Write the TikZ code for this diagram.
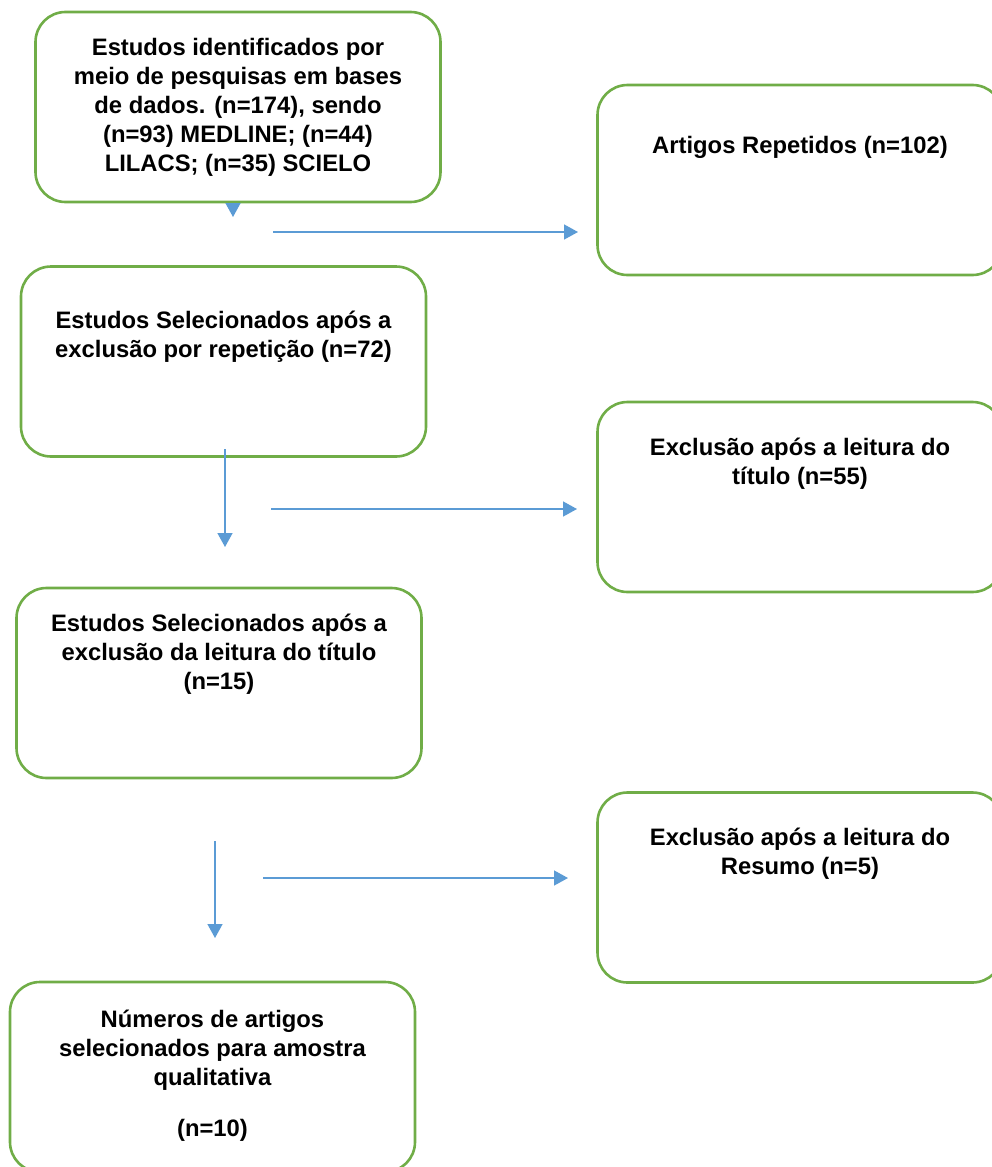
\documentclass[tikz,border=0pt]{standalone}
\usepackage{fontspec}
\setmainfont{Liberation Sans}
\usetikzlibrary{arrows.meta}
\definecolor{boxgreen}{HTML}{70AD47}
\definecolor{arrowblue}{HTML}{5B9BD5}
\tikzset{
	stagebox/.style={draw=boxgreen, line width=2.6pt, rounded corners=30pt,
		minimum width=405pt, minimum height=190pt, inner sep=0pt},
	stagetext/.style={anchor=north, inner sep=0pt, align=center,
		font=\bfseries\fontsize{23.8}{29}\selectfont},
	flow/.style={draw=arrowblue, line width=1.5pt,
		-{Triangle[width=15pt,length=14pt]}}
}
\begin{document}
\begin{tikzpicture}[x=1pt,y=-1pt]
			\path[use as bounding box] (0,0) rectangle (992,1167);
			\clip (0,0) rectangle (992,1167);
			
			\node[stagebox] (A) at (238,107) {};
			\node[stagebox] (B) at (800,180) {};
			\node[stagebox] (C) at (223.5,361.5) {};
			\node[stagebox] (D) at (800,497) {};
			\node[stagebox] (E) at (219,683) {};
			\node[stagebox] (F) at (800,887.5) {};
			\node[stagebox] (G) at (212.5,1077) {};
			
			\node[stagetext] (At) at (238,34.7) {\strut Estudos identificados por\\ meio de pesquisas em bases\\ de dados. (n=174), sendo\\ (n=93) MEDLINE; (n=44)\\ LILACS; (n=35) SCIELO};
			\node[stagetext] (Bt) at (800,132.7) {\strut Artigos Repetidos (n=102)};
			\node[stagetext] (Ct) at (223.5,307.7) {\strut Estudos Selecionados após a\\ exclusão por repetição (n=72)};
			\node[stagetext] (Dt) at (800,434.7) {\strut Exclusão após a leitura do\\ título (n=55)};
			\node[stagetext] (Et) at (219,610.7) {\strut Estudos Selecionados após a\\ exclusão da leitura do título\\ (n=15)};
			\node[stagetext] (Ft) at (800,824.7) {\strut Exclusão após a leitura do\\ Resumo (n=5)};
			\node[stagetext] (Gt) at (212.5,1006.7) {\strut Números de artigos\\ selecionados para amostra\\ qualitativa\\[22pt] (n=10)};
			
			%\node (X) at (233,190) {};
			\coordinate (a1) at (233,203);
			\coordinate (a2) at (233,217);
			\coordinate (b1) at (225,449);
			\coordinate (b2) at (225,547);
			\coordinate (c1) at (215,841);
			\coordinate (c2) at (215,938);
			\coordinate (h1) at (273,232);
			\coordinate (h2) at (578,232);
			\coordinate (i1) at (271,509);
			\coordinate (i2) at (577,509);
			\coordinate (j1) at (263,878);
			\coordinate (j2) at (568,878);
			
			\draw[flow] (a1) to (a2);
			\draw[flow] (b1) to (b2);
			\draw[flow] (c1) to (c2);
			\draw[flow] (h1) to (h2);
			\draw[flow] (i1) to (i2);
			\draw[flow] (j1) to (j2);
\end{tikzpicture}
\end{document}
